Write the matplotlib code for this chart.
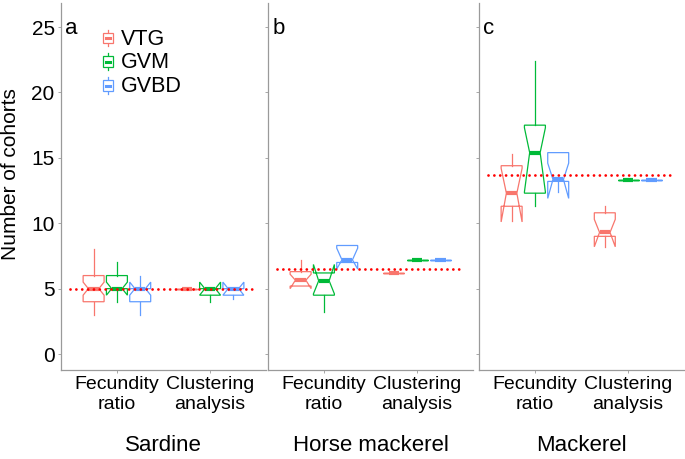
import numpy as np
import matplotlib
matplotlib.use('Agg')
import matplotlib.pyplot as plt
from matplotlib.legend_handler import HandlerBase
from matplotlib.patches import Rectangle
from matplotlib.lines import Line2D

plt.rcParams['font.family'] = ['Liberation Sans', 'DejaVu Sans']

species = ['Sardine', 'Horse mackerel', 'Mackerel']
panel_tags = ['a', 'b', 'c']
methods = ['Fecundity\nratio', 'Clustering\nanalysis']
stages = ['VTG', 'GVM', 'GVBD']
stage_colors = ['#F8766D', '#00BA38', '#619CFF']

# box stats, per stage:
# (whislo, q1, cilo, med, cihi, q3, whishi)
sardine_fecundity = [(3, 4, 4.5, 5, 5.5, 6, 8),
                     (4, 5, 4.5, 5, 5.5, 6, 7),
                     (3, 4, 4.5, 5, 5.5, 5, 6)]
sardine_clustering = [(5, 5, 5, 5, 5, 5, 5),
                      (4, 4.5, 4.5, 5, 5.5, 5, 5),
                      (4.2, 4.5, 4.5, 5, 5.5, 5, 5)]
horse_fecundity = [(5.2, 5.2, 5.0, 5.65, 6.1, 6.3, 7.2),
                   (3.2, 4.5, 4.6, 5.6, 6.85, 6.2, 6.2),
                   (7.0, 7.0, 6.5, 7.2, 8.1, 8.3, 8.3)]
horse_clustering = [(6.2, 6.2, 6.2, 6.2, 6.2, 6.2, 6.2),
                    (7.2, 7.2, 7.2, 7.2, 7.2, 7.2, 7.2),
                    (7.2, 7.2, 7.2, 7.2, 7.2, 7.2, 7.2)]
mackerel_fecundity = [(10.2, 11.3, 10.1, 12.3, 14.2, 14.4, 15.3),
                      (11.3, 12.3, 12.4, 15.4, 17.3, 17.5, 22.4),
                      (12.4, 13.2, 11.9, 13.35, 14.6, 15.4, 15.4)]
mackerel_clustering = [(8.2, 9.0, 8.2, 9.3, 10.3, 10.8, 11.3),
                       (13.3, 13.3, 13.3, 13.3, 13.3, 13.3, 13.3),
                       (13.3, 13.3, 13.3, 13.3, 13.3, 13.3, 13.3)]

# reference number of cohorts (red dotted line)
reference_cohorts = [5.0, 6.5, 13.66]

all_stats = [[sardine_fecundity, sardine_clustering],
             [horse_fecundity, horse_clustering],
             [mackerel_fecundity, mackerel_clustering]]

keys = ['whislo', 'q1', 'cilo', 'med', 'cihi', 'q3', 'whishi']
spine_grey = '#9a9a9a'


class HandlerMiniBox(HandlerBase):
    """tiny boxplot glyph for the legend"""
    def create_artists(self, legend, orig_handle, xdescent, ydescent,
                       width, height, fontsize, trans):
        c = orig_handle.get_color()
        cx = -xdescent + width / 2
        y0 = -ydescent - 0.1 * height
        h = height * 1.1
        bw = width * 0.8
        wl = Line2D([cx, cx], [y0, y0 + h], color=c, lw=0.9, transform=trans)
        box = Rectangle((cx - bw / 2, y0 + 0.18 * h), bw, 0.64 * h,
                        fc='white', ec=c, lw=0.9, transform=trans)
        med = Line2D([cx - bw / 4, cx + bw / 4], [y0 + 0.5 * h] * 2,
                     color=c, lw=2.2, transform=trans)
        return [wl, box, med]


fig = plt.figure(figsize=(6.85, 4.59), dpi=100)

W, H = 685.0, 459.0
lefts = [61, 268, 479]
pw = 205
top_px, bot_px = 3, 370

offsets = [-0.25, 0.0, 0.25]
box_w = 0.225

for k in range(3):
    ax = fig.add_axes([lefts[k] / W, (H - bot_px) / H, pw / W, (bot_px - top_px) / H])

    for m in range(2):
        for s in range(3):
            st = dict(zip(keys, all_stats[k][m][s]))
            st['fliers'] = []
            col = stage_colors[s]
            ax.bxp([st], positions=[m + 1 + offsets[s]], widths=box_w,
                   shownotches=True, showcaps=False, showfliers=False,
                   patch_artist=True, manage_ticks=False,
                   boxprops=dict(facecolor='none', edgecolor=col, lw=0.9),
                   whiskerprops=dict(color=col, lw=0.9),
                   medianprops=dict(color=col, lw=3, solid_capstyle='butt'))

    ax.plot([0.5, 2.5], [reference_cohorts[k]] * 2, color='red', lw=2,
            linestyle=(0, (0.01, 2.1)), dash_capstyle='round', zorder=5)

    ax.set_xlim(0.4, 2.6)
    ax.set_ylim(-1.22, 26.84)
    ax.set_xticks([1, 2])
    ax.set_xticklabels(methods, fontsize=14)
    ax.set_yticks([0, 5, 10, 15, 20, 25])
    if k == 0:
        ax.set_yticklabels(['0', '5', '10', '15', '20', '25'], fontsize=15)
        ax.set_ylabel('Number of cohorts', fontsize=15)
        ax.yaxis.set_label_coords(-0.2, 0.535)
    else:
        ax.set_yticklabels([])
    ax.tick_params(length=2.5, width=0.6, color=spine_grey, pad=2)

    for side in ['top', 'right']:
        ax.spines[side].set_visible(False)
    for side in ['left', 'bottom']:
        ax.spines[side].set_color(spine_grey)
        ax.spines[side].set_linewidth(0.9)

    ax.text(0.02, 0.93, panel_tags[k], transform=ax.transAxes,
            fontsize=16, ha='left', va='center')
    ax.text(0.5, -0.205, species[k], transform=ax.transAxes,
            fontsize=16, ha='center', va='center')

    if k == 0:
        handles = [Line2D([], [], color=c) for c in stage_colors]
        ax.legend(handles, stages, loc='upper left',
                  bbox_to_anchor=(0.2, 0.93), frameon=False, fontsize=15.5,
                  handler_map={Line2D: HandlerMiniBox()},
                  handlelength=0.55, handletextpad=0.35, labelspacing=0.13,
                  borderpad=0, borderaxespad=0)

fig.savefig('out.png', dpi=100)
